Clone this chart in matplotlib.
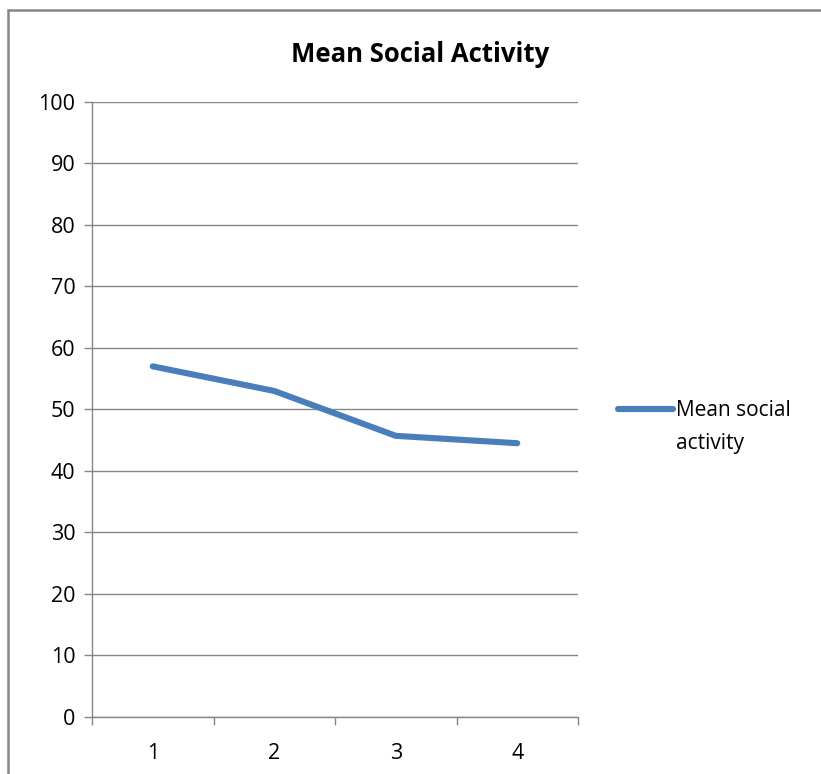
import matplotlib
matplotlib.use('Agg')
import matplotlib.pyplot as plt
from matplotlib.patches import Rectangle

categories = ['1', '2', '3', '4']
mean_social = [57.0, 53.0, 45.7, 44.5]
y_ticks = [0, 10, 20, 30, 40, 50, 60, 70, 80, 90, 100]
series_label = 'Mean social activity'
title = 'Mean Social Activity'

W, H = 821, 774
plt.rcParams['font.family'] = ['Open Sans', 'DejaVu Sans']

fig = plt.figure(figsize=(W / 100, H / 100), dpi=100)

# outer chart border (Excel style)
fig.patches.append(Rectangle((8 / W, -0.1), 1.2, 1 - 10 / H + 0.1,
                             transform=fig.transFigure, fill=False,
                             edgecolor='#868686', linewidth=1.8))

ax = fig.add_axes([92 / W, 1 - 716.8 / H, (578 - 92) / W, (716.8 - 102) / H])
x = list(range(len(categories)))
ax.plot(x, mean_social, color='#4a7ebb', linewidth=4.4, solid_capstyle='round',
        solid_joinstyle='round', zorder=3)

ax.set_xlim(-0.5, len(categories) - 0.5)
ax.set_ylim(0, 100)
ax.set_yticks(y_ticks)
ax.yaxis.grid(True, color='#868686', linewidth=1.0)
ax.set_axisbelow(True)
ax.set_xticks([i - 0.5 for i in range(len(categories) + 1)])
ax.set_xticklabels([])
ax.set_xticks(x, minor=True)
ax.set_xticklabels(categories, minor=True)
ax.tick_params(axis='x', which='minor', length=0, pad=19, labelsize=15.5)
ax.tick_params(axis='x', which='major', length=6, color='#868686', width=1.0)
ax.tick_params(axis='y', length=6, color='#868686', width=1.0, labelsize=15.5, pad=6)
for s in ['top', 'right']:
    ax.spines[s].set_visible(False)
for s in ['left', 'bottom']:
    ax.spines[s].set_color('#868686')
    ax.spines[s].set_linewidth(1.0)

fig.text(420 / W, 1 - 55 / H, title, ha='center', va='center',
         fontsize=18.5, fontweight='bold')

# legend drawn manually to match the wrapped label
fig.lines.append(plt.Line2D([618 / W, 673 / W], [1 - 409 / H, 1 - 409 / H],
                            transform=fig.transFigure, color='#4a7ebb',
                            linewidth=4.4, solid_capstyle='round'))
fig.text(676 / W, 1 - 410 / H, 'Mean social', ha='left', va='center', fontsize=15)
fig.text(676 / W, 1 - 444 / H, 'activity', ha='left', va='center', fontsize=15)

fig.savefig('out.png', dpi=100)
